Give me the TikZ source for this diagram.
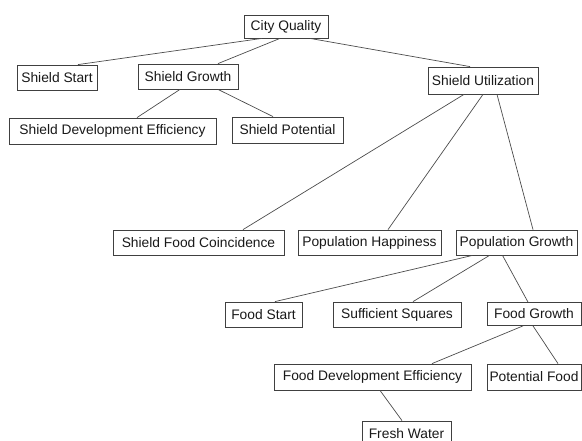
\documentclass[tikz,border=0pt]{standalone}
\usepackage{fontspec}
\setmainfont{Liberation Sans}
\usepackage{tikz}
\usetikzlibrary{positioning}

\begin{document}
\begin{tikzpicture}
  [
    x=1pt, y=-1pt,
    Box/.style={draw=black!75, line width=0.8pt, fill=white, text=black!90,
      inner sep=0pt, minimum height=25pt, font=\fontsize{13.8}{15}\selectfont},
    Link/.style={draw=black!70, line width=0.7pt}
  ]
  \useasboundingbox (0, 0) rectangle (582, 441);

  % Nodes
  \node[Box, minimum width=84pt, minimum height=23pt] (cq) at(286, 26.5) {City Quality};

  \node[Box, minimum width=80pt] (sstart) at(57, 77.5) {Shield Start};
  \node[Box, minimum width=100pt] (sgrowth) at(188, 76.5) {Shield Growth};
  \node[Box, minimum width=110pt, minimum height=27pt] (sutil) at(483, 80.5) {Shield Utilization};

  \node[Box, minimum width=207pt, minimum height=26pt] (sdeveff) at(112.5, 131) {Shield Development Efficiency};
  \node[Box, minimum width=111pt, minimum height=26pt] (spot) at(287.5, 130) {Shield Potential};

  \node[Box, minimum width=171pt] (sfood) at(198.5, 242.5) {Shield Food Coincidence};
  \node[Box, minimum width=143pt] (phappy) at(369.5, 242.5) {Population Happiness};
  \node[Box, minimum width=121pt] (pgrowth) at(516.5, 242.5) {Population Growth};

  \node[Box, minimum width=77pt] (fstart) at(263.5, 314.5) {Food Start};
  \node[Box, minimum width=128pt] (suffsq) at(397, 314.5) {Sufficient Squares};
  \node[Box, minimum width=94pt, minimum height=23pt] (fgrowth) at(534, 314) {Food Growth};

  \node[Box, minimum width=197pt, minimum height=26pt] (fdeveff) at(372.5, 377) {Food Development Efficiency};
  \node[Box, minimum width=94pt, minimum height=26pt] (pfood) at(534, 377) {Potential Food};

  \node[Box, minimum width=89pt] (fwater) at(406.5, 433.5) {Fresh Water};

  % Lines
  \path[Link] ([xshift=-24pt]cq.south) -- ([xshift=21pt]sstart.north);
  \path[Link] ([xshift=-6pt]cq.south) -- ([xshift=30pt]sgrowth.north);
  \path[Link] ([xshift=24pt]cq.south) -- ([xshift=-13pt]sutil.north);
  \path[Link] ([xshift=-8pt]sgrowth.south) -- ([xshift=24.5pt]sdeveff.north);
  \path[Link] ([xshift=30pt]sgrowth.south) -- ([xshift=-14.5pt]spot.north);
  \path[Link] ([xshift=-19pt]sutil.south) -- ([xshift=44.5pt]sfood.north);
  \path[Link] (sutil.south) -- ([xshift=18.5pt]phappy.north);
  \path[Link] ([xshift=14pt]sutil.south) -- ([xshift=16.5pt]pgrowth.north);
  \path[Link] ([xshift=-44pt]pgrowth.south) -- ([xshift=11.5pt]fstart.north);
  \path[Link] ([xshift=-27pt]pgrowth.south) -- ([xshift=16pt]suffsq.north);
  \path[Link] ([xshift=-14pt]pgrowth.south) -- ([xshift=-6pt]fgrowth.north);
  \path[Link] ([xshift=-11pt]fgrowth.south) -- ([xshift=59.5pt]fdeveff.north);
  \path[Link] ([xshift=-1pt]fgrowth.south) -- ([xshift=24pt]pfood.north);
  \path[Link] ([xshift=7.5pt]fdeveff.south) -- ([xshift=-4.5pt]fwater.north);

\end{tikzpicture}
\end{document}
